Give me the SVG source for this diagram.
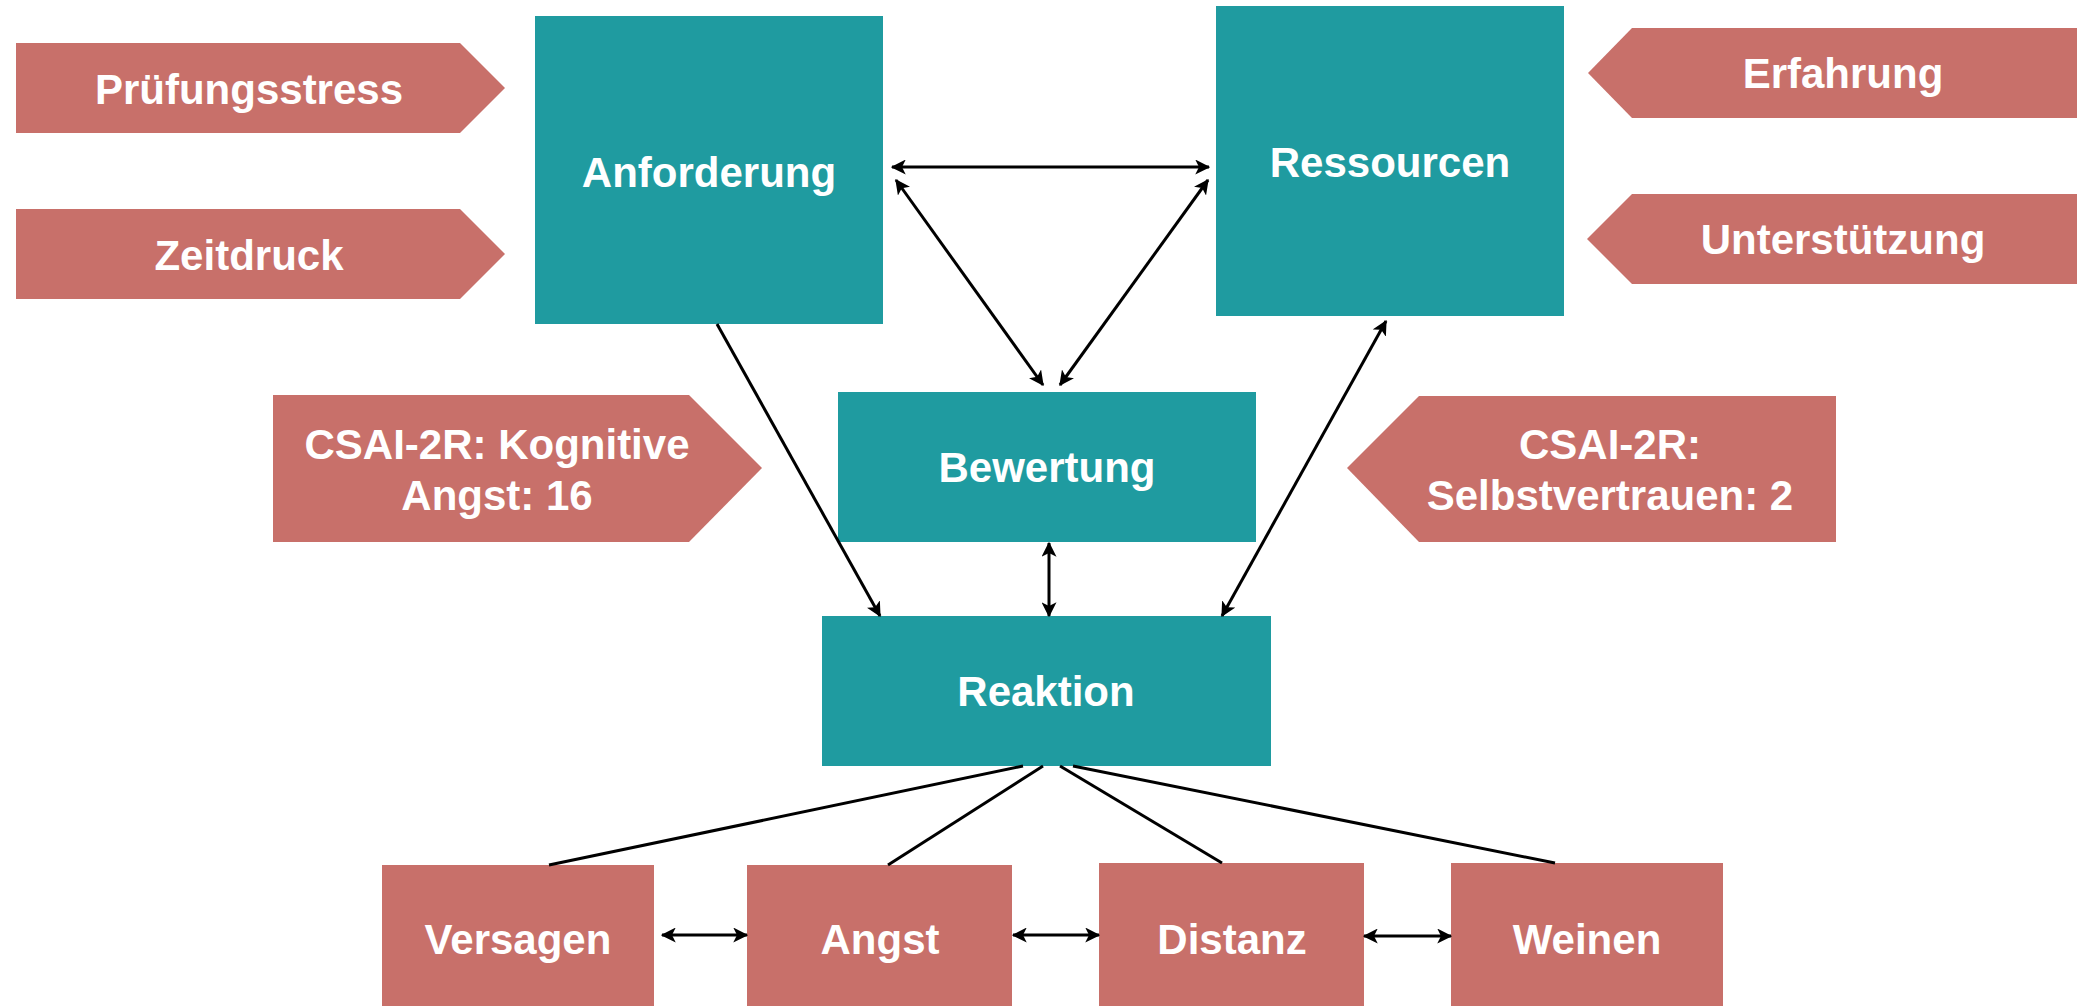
<svg xmlns="http://www.w3.org/2000/svg" width="2077" height="1006" viewBox="0 0 2077 1006">
<style>
.teal{fill:#1F9BA0}
.sal{fill:#C8706A}
.t{font-family:"Liberation Sans",Arial,sans-serif;font-weight:bold;font-size:42px;fill:#FFFFFF;text-anchor:middle}
.c{stroke:#000000;stroke-width:3;fill:none}
</style>
<defs>
<marker id="ah" viewBox="0 0 12 12" refX="11" refY="6" markerWidth="15" markerHeight="15" markerUnits="userSpaceOnUse" orient="auto-start-reverse">
<path d="M0,0 L12,6 L0,12 L3,6 Z" fill="#000000"/>
</marker>
</defs>
<rect width="2077" height="1006" fill="#FFFFFF"/>

<g id="pruefungsstress">
<polygon class="sal" points="16,43 460,43 505,88 460,133 16,133"/>
<text class="t" x="249" y="104">Prüfungsstress</text>
</g>
<g id="zeitdruck">
<polygon class="sal" points="16,209 460,209 505,254 460,299 16,299"/>
<text class="t" x="249" y="270">Zeitdruck</text>
</g>
<g id="anforderung">
<rect class="teal" x="535" y="16" width="348" height="308"/>
<text class="t" x="709" y="187">Anforderung</text>
</g>
<g id="ressourcen">
<rect class="teal" x="1216" y="6" width="348" height="310"/>
<text class="t" x="1390" y="177">Ressourcen</text>
</g>
<g id="erfahrung">
<polygon class="sal" points="1588,73 1632,28 2077,28 2077,118 1632,118"/>
<text class="t" x="1843" y="88">Erfahrung</text>
</g>
<g id="unterstuetzung">
<polygon class="sal" points="1587,239 1632,194 2077,194 2077,284 1632,284"/>
<text class="t" x="1843" y="254">Unterstützung</text>
</g>
<g id="csai-kognitive">
<polygon class="sal" points="273,395 689,395 762,468 689,542 273,542"/>
<text class="t" x="497" y="459">CSAI-2R: Kognitive</text>
<text class="t" x="497" y="510">Angst: 16</text>
</g>
<g id="csai-selbstvertrauen">
<polygon class="sal" points="1347,468 1419,396 1836,396 1836,542 1419,542"/>
<text class="t" x="1610" y="459">CSAI-2R:</text>
<text class="t" x="1610" y="510">Selbstvertrauen: 2</text>
</g>
<g id="bewertung">
<rect class="teal" x="838" y="392" width="418" height="150"/>
<text class="t" x="1047" y="482">Bewertung</text>
</g>
<g id="reaktion">
<rect class="teal" x="822" y="616" width="449" height="150"/>
<text class="t" x="1046" y="706">Reaktion</text>
</g>
<g id="versagen">
<rect class="sal" x="382" y="865" width="272" height="141"/>
<text class="t" x="518" y="954">Versagen</text>
</g>
<g id="angst">
<rect class="sal" x="747" y="865" width="265" height="141"/>
<text class="t" x="880" y="954">Angst</text>
</g>
<g id="distanz">
<rect class="sal" x="1099" y="863" width="265" height="143"/>
<text class="t" x="1232" y="954">Distanz</text>
</g>
<g id="weinen">
<rect class="sal" x="1451" y="863" width="272" height="143"/>
<text class="t" x="1587" y="954">Weinen</text>
</g>

<g id="connectors">
<line class="c" x1="892" y1="167" x2="1209" y2="167" marker-start="url(#ah)" marker-end="url(#ah)"/>
<line class="c" x1="896" y1="180" x2="1043" y2="385" marker-start="url(#ah)" marker-end="url(#ah)"/>
<line class="c" x1="1208" y1="180" x2="1060" y2="385" marker-start="url(#ah)" marker-end="url(#ah)"/>
<line class="c" x1="717" y1="324" x2="880" y2="616" marker-end="url(#ah)"/>
<line class="c" x1="1386" y1="321" x2="1222" y2="616" marker-start="url(#ah)" marker-end="url(#ah)"/>
<line class="c" x1="1049" y1="543" x2="1049" y2="616" marker-start="url(#ah)" marker-end="url(#ah)"/>
<line class="c" x1="1023" y1="766" x2="549" y2="865"/>
<line class="c" x1="1043" y1="766" x2="888" y2="865"/>
<line class="c" x1="1060" y1="766" x2="1222" y2="863"/>
<line class="c" x1="1073" y1="766" x2="1555" y2="863"/>
<line class="c" x1="662" y1="935" x2="747" y2="935" marker-start="url(#ah)" marker-end="url(#ah)"/>
<line class="c" x1="1013" y1="935" x2="1099" y2="935" marker-start="url(#ah)" marker-end="url(#ah)"/>
<line class="c" x1="1364" y1="936" x2="1451" y2="936" marker-start="url(#ah)" marker-end="url(#ah)"/>
</g>
</svg>
